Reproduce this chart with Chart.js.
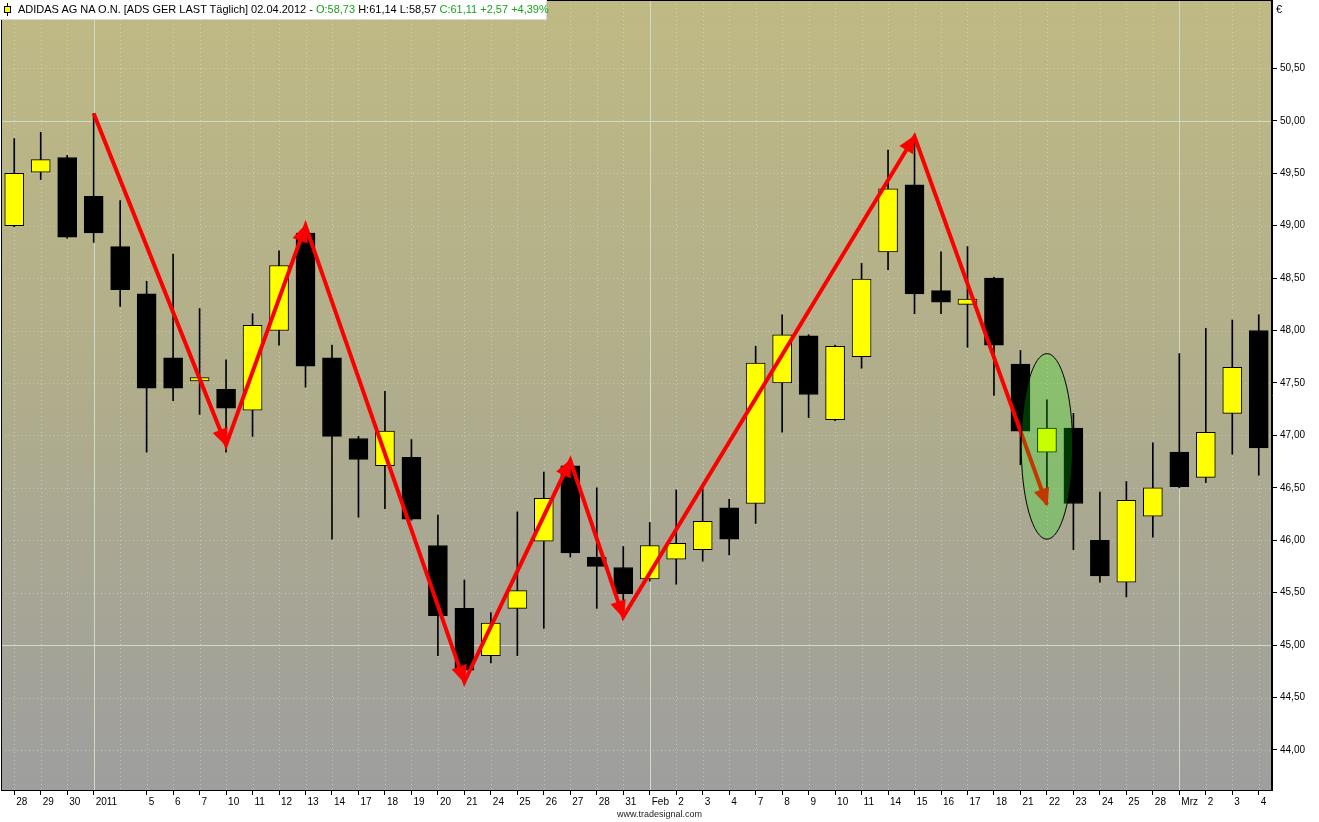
<!DOCTYPE html>
<html>
<head>
<meta charset="utf-8">
<script src="https://cdn.jsdelivr.net/npm/chart.js@4.4.1/dist/chart.umd.min.js"></script>
<style>
  html, body { margin: 0; padding: 0; background: #fff; }
  #wrap { position: relative; width: 1319px; height: 822px; overflow: hidden; }
  #header {
    position: absolute; left: 0; top: 0; height: 19px; width: 528px;
    padding-left: 18px; background: #fff; border-right: 1px solid #d8d8d8; border-bottom: 1px solid #d8d8d8;
    font: 11px 'Liberation Sans', Arial, sans-serif; line-height: 19px; color: #000; white-space: nowrap;
  }
  #header .up { color: #19a319; }
  #icon { position: absolute; left: 4px; top: 3px; width: 7px; height: 13px; }
  #icon .wick { position: absolute; left: 3px; top: 0; width: 1px; height: 13px; background: #000; }
  #icon .body { position: absolute; left: 0; top: 3px; width: 5px; height: 5px; background: #ff0; border: 1px solid #000; }
  #euro { position: absolute; left: 1276px; top: 3px; font: 11px 'Liberation Sans', Arial, sans-serif; }
  #footer { position: absolute; left: 0; width: 1319px; top: 809px; text-align: center; font: 9px 'Liberation Sans', Arial, sans-serif; color: #222; }
</style>
</head>
<body>
<div id="wrap">
  <canvas id="chart" width="1319" height="822"></canvas>
  <div id="header"><div id="icon"><div class="wick"></div><div class="body"></div></div>ADIDAS AG NA O.N. [ADS GER LAST Täglich] 02.04.2012 - <span class="up">O:58,73</span> H:61,14 L:58,57 <span class="up">C:61,11 +2,57 +4,39%</span></div>
  <div id="euro">€</div>
  <div id="footer">www.tradesignal.com</div>
</div>
<script>
// Day labels, one per trading day (Jan 4 has no label)
const dayLabels = ['28', '29', '30', '2011', '', '5', '6', '7', '10', '11', '12', '13', '14', '17', '18', '19', '20', '21',
  '24', '25', '26', '27', '28', '31', 'Feb', '2', '3', '4', '7', '8', '9', '10', '11', '14', '15', '16', '17', '18',
  '21', '22', '23', '24', '25', '28', 'Mrz', '2', '3', '4'];

// Daily OHLC
const opens = [49.00, 49.51, 49.65, 49.28, 48.80, 48.35, 47.74, 47.52, 47.44, 47.24, 48.00, 48.93, 47.74, 46.97, 46.71, 46.79,
  45.95, 45.35, 44.90, 45.35, 45.99, 46.71, 45.84, 45.74, 45.63, 45.82, 45.91, 46.31, 46.35, 47.50, 47.95, 47.15,
  47.75, 48.75, 49.39, 48.38, 48.25, 48.50, 47.68, 46.84, 47.07, 46.00, 45.60, 46.23, 46.84, 46.60, 47.21, 48.00];
const highs = [49.83, 49.89, 49.67, 50.07, 49.24, 48.47, 48.73, 48.21, 47.72, 48.16, 48.76, 48.95, 47.86, 46.99, 47.42, 46.96,
  46.24, 45.62, 45.31, 46.27, 46.65, 46.73, 46.50, 45.94, 46.17, 46.48, 46.49, 46.39, 47.85, 48.15, 47.96, 47.86,
  48.64, 49.72, 49.84, 48.75, 48.80, 48.51, 47.81, 47.34, 47.21, 46.46, 46.56, 46.93, 47.78, 48.02, 48.10, 48.15];
const lows = [48.99, 49.44, 48.88, 48.84, 48.23, 46.84, 47.33, 47.20, 46.84, 46.99, 47.86, 47.46, 46.01, 46.22, 46.30, 46.19,
  44.90, 44.74, 44.83, 44.90, 45.16, 45.84, 45.35, 45.33, 45.61, 45.58, 45.80, 45.86, 46.16, 47.03, 47.17, 47.14,
  47.64, 48.58, 48.16, 48.16, 47.84, 47.38, 46.72, 46.45, 45.91, 45.60, 45.46, 46.03, 46.50, 46.55, 46.82, 46.62];
const closes = [49.50, 49.63, 48.89, 48.93, 48.39, 47.45, 47.45, 47.55, 47.26, 48.05, 48.62, 47.66, 46.99, 46.77, 47.04, 46.20,
  45.28, 44.76, 45.21, 45.52, 46.40, 45.88, 45.75, 45.49, 45.95, 45.97, 46.18, 46.01, 47.69, 47.96, 47.39, 47.85,
  48.49, 49.35, 48.35, 48.27, 48.30, 47.86, 47.04, 47.07, 46.35, 45.66, 46.38, 46.50, 46.51, 47.03, 47.65, 46.88];

// Hand drawn zigzag (null = no turning point that day)
const zigzag = [null, null, null, 50.07, null, null, null, null, 46.91, null, null, 49.00, null, null, null, null,
  null, 44.65, null, null, null, 46.76, null, 45.27, null, null, null, null, null, null, null, null,
  null, null, 49.85, null, null, null, null, 46.34, null, null, null, null, null, null, null, null];

// Price axis
const yTicks = [44, 44.5, 45, 45.5, 46, 46.5, 47, 47.5, 48, 48.5, 49, 49.5, 50, 50.5];
const yMin = 43.618;
const yMax = 51.152;
const strongLevels = [45, 50];
// Year / month start days (solid vertical grid)
const monthStarts = [3, 24, 44];
// Marked day (ellipse)
const highlightDay = 39;
const highlightTop = 47.78;
const highlightBottom = 46.01;

const upColor = '#ffff00';
const downColor = '#000000';

Chart.defaults.font.family = "'Liberation Sans', Arial, sans-serif";
Chart.defaults.font.size = 10;
Chart.defaults.color = '#000';

const chartDecor = {
  id: 'chartDecor',
  beforeDraw(chart) {
    const { ctx, chartArea: a } = chart;
    const g = ctx.createLinearGradient(0, a.top, 0, a.bottom);
    g.addColorStop(0, 'rgb(191,186,132)');
    g.addColorStop(0.5, 'rgb(176,173,140)');
    g.addColorStop(1, 'rgb(158,158,158)');
    ctx.save();
    ctx.fillStyle = g;
    ctx.fillRect(a.left, a.top, a.right - a.left, a.bottom - a.top);
    ctx.restore();
  },
  beforeDatasetsDraw(chart) {
    const { ctx, chartArea: a, scales } = chart;
    const x = scales.x, y = scales.y;
    ctx.save();
    ctx.lineWidth = 1;

    // dotted grid
    ctx.setLineDash([1, 3]);
    ctx.strokeStyle = 'rgba(230,230,215,0.5)';
    dayLabels.forEach((lbl, i) => {
      if (monthStarts.includes(i)) return;
      const px = Math.round(x.getPixelForValue(i)) + 0.5;
      ctx.beginPath(); ctx.moveTo(px, a.top); ctx.lineTo(px, a.bottom); ctx.stroke();
    });
    yTicks.forEach((v) => {
      if (strongLevels.includes(v)) return;
      const py = Math.round(y.getPixelForValue(v)) + 0.5;
      ctx.beginPath(); ctx.moveTo(a.left, py); ctx.lineTo(a.right, py); ctx.stroke();
    });

    // solid grid
    ctx.setLineDash([]);
    ctx.strokeStyle = 'rgb(206,220,196)';
    monthStarts.forEach((i) => {
      const px = Math.round(x.getPixelForValue(i)) + 0.5;
      ctx.beginPath(); ctx.moveTo(px, a.top); ctx.lineTo(px, a.bottom); ctx.stroke();
    });
    strongLevels.forEach((v) => {
      const py = Math.round(y.getPixelForValue(v)) + 0.5;
      ctx.beginPath(); ctx.moveTo(a.left, py); ctx.lineTo(a.right, py); ctx.stroke();
    });
    ctx.restore();
  },
  afterDatasetsDraw(chart) {
    const { ctx, chartArea: a, scales } = chart;
    const x = scales.x, y = scales.y;
    const pts = chart.getDatasetMeta(2).data;
    const turns = zigzag.map((v, i) => (v === null ? -1 : i)).filter((i) => i >= 0);

    ctx.save();
    // arrow heads at every turning point
    ctx.fillStyle = 'rgb(250,0,0)';
    for (let k = 1; k < turns.length; k++) {
      const p = pts[turns[k]], q = pts[turns[k - 1]];
      const ang = Math.atan2(p.y - q.y, p.x - q.x);
      const len = 16, half = 8;
      const bx = p.x - Math.cos(ang) * len, by = p.y - Math.sin(ang) * len;
      ctx.beginPath();
      ctx.moveTo(p.x + Math.cos(ang) * 2, p.y + Math.sin(ang) * 2);
      ctx.lineTo(bx + Math.sin(ang) * half, by - Math.cos(ang) * half);
      ctx.lineTo(bx - Math.sin(ang) * half, by + Math.cos(ang) * half);
      ctx.closePath();
      ctx.fill();
    }

    // highlight ellipse
    const cx = x.getPixelForValue(highlightDay);
    const rx = (x.getPixelForValue(highlightDay + 1) - cx) * 0.97;
    const top = y.getPixelForValue(highlightTop), bot = y.getPixelForValue(highlightBottom);
    ctx.beginPath();
    ctx.ellipse(cx, (top + bot) / 2, rx, (bot - top) / 2, 0, 0, Math.PI * 2);
    ctx.fillStyle = 'rgba(0,255,0,0.22)';
    ctx.fill();
    ctx.lineWidth = 1;
    ctx.strokeStyle = '#000';
    ctx.stroke();

    // frame
    ctx.strokeStyle = '#000';
    ctx.strokeRect(a.left + 0.5, a.top + 0.5, a.right - a.left - 1, a.bottom - a.top);
    ctx.restore();
  },
};

const bodyColors = opens.map((o, i) => (closes[i] >= o ? upColor : downColor));

new Chart(document.getElementById('chart'), {
  type: 'bar',
  data: {
    labels: dayLabels,
    datasets: [
      {
        label: 'Wick',
        data: lows.map((l, i) => [l, highs[i]]),
        backgroundColor: '#000',
        borderWidth: 0,
        barThickness: 1,
        grouped: false,
        order: 3,
      },
      {
        label: 'Body',
        data: opens.map((o, i) => [o, closes[i]]),
        backgroundColor: bodyColors,
        borderColor: '#000',
        borderWidth: 1,
        borderSkipped: false,
        barThickness: 19,
        grouped: false,
        order: 2,
      },
      {
        type: 'line',
        label: 'Zigzag',
        data: zigzag,
        borderColor: 'rgb(250,0,0)',
        borderWidth: 4,
        pointRadius: 0,
        tension: 0,
        spanGaps: true,
        order: 1,
      },
    ],
  },
  options: {
    responsive: false,
    animation: false,
    layout: { padding: { left: 1, top: 0, right: 0, bottom: 0 } },
    plugins: { legend: { display: false }, tooltip: { enabled: false } },
    scales: {
      x: {
        offset: true,
        grid: {
          offset: false,
          drawOnChartArea: false,
          tickLength: 5,
          tickColor: (c) => (dayLabels[c.index] ? '#000' : 'rgba(0,0,0,0)'),
        },
        border: { color: '#000' },
        ticks: { autoSkip: false, maxRotation: 0, align: 'start', labelOffset: 2, padding: 1, color: '#000' },
        afterFit: (s) => { s.height = 32; s.paddingLeft = 0; s.paddingRight = 0; },
      },
      y: {
        position: 'right',
        min: yMin,
        max: yMax,
        grid: { drawOnChartArea: false, tickLength: 5, tickColor: '#000' },
        border: { color: '#000' },
        ticks: {
          padding: 3,
          color: '#000',
          callback: (v) => v.toFixed(2).replace('.', ','),
        },
        afterBuildTicks: (s) => { s.ticks = yTicks.map((v) => ({ value: v })); },
        afterFit: (s) => { s.width = 47; s.paddingTop = 0; s.paddingBottom = 0; },
      },
    },
  },
  plugins: [chartDecor],
});
</script>
</body>
</html>
